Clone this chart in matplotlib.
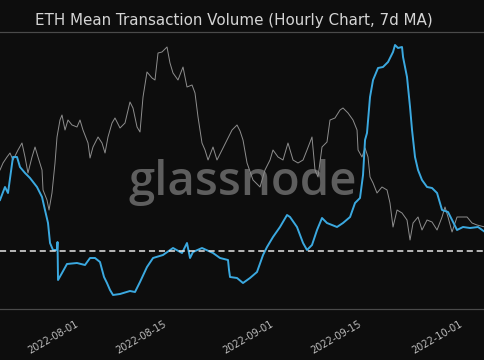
import numpy as np
import pandas as pd
import matplotlib
matplotlib.use("Agg")
import matplotlib.pyplot as plt
import matplotlib.dates as mdates

# time axis: days since 2022-07-19 07:00
start = pd.Timestamp("2022-07-19 07:00")
end_days = 76.98

# ETH price (grey, hourly)
price_days = [0.00, 0.48, 1.11, 1.59, 2.06, 2.86, 3.49, 3.97, 4.44, 5.08, 5.56, 6.03, 6.67, 6.83,
              7.46, 7.78, 8.25, 8.73, 9.05, 9.52, 9.84, 10.32, 10.79, 11.43, 12.22, 12.70, 13.17,
              13.97, 14.29, 14.76, 15.56, 16.19, 16.67, 17.14, 17.78, 18.25, 19.05, 19.84, 20.63,
              21.11, 21.75, 22.22, 22.70, 23.33, 24.13, 24.60, 25.08, 25.71, 26.51, 26.98, 27.46,
              28.25, 29.05, 29.68, 30.48, 30.95, 31.43, 32.06, 32.54, 33.02, 33.81, 34.44, 35.24,
              36.03, 36.83, 37.62, 38.10, 38.57, 39.21, 40.16, 41.27, 42.06, 42.86, 43.33, 44.13,
              44.92, 45.71, 46.51, 47.30, 48.10, 48.73, 49.52, 50.00, 50.48, 51.11, 51.90, 52.38,
              53.17, 53.97, 54.44, 55.24, 56.03, 56.67, 56.83, 57.46, 57.94, 58.41, 58.73, 59.21,
              59.84, 60.63, 61.43, 61.90, 62.38, 63.02, 63.81, 64.60, 65.08, 65.56, 66.35, 66.98,
              67.78, 68.57, 69.37, 70.16, 70.63, 71.11, 71.75, 72.54, 73.33, 74.13, 74.92, 75.71,
              76.98]
price = [1500, 1528, 1552, 1568, 1540, 1580, 1608, 1552, 1488, 1552, 1592, 1552, 1500, 1420,
         1380, 1340, 1408, 1528, 1632, 1700, 1720, 1660, 1700, 1680, 1672, 1700, 1660,
         1608, 1548, 1592, 1632, 1608, 1568, 1632, 1688, 1708, 1668, 1688, 1772,
         1748, 1672, 1652, 1792, 1892, 1868, 1860, 1968, 1972, 1992, 1928, 1888,
         1860, 1912, 1832, 1840, 1808, 1712, 1608, 1580, 1540, 1592, 1540, 1580,
         1620, 1660, 1680, 1656, 1620, 1528, 1460, 1432, 1500, 1540, 1580, 1552,
         1540, 1608, 1540, 1528, 1540, 1580, 1632, 1500, 1472, 1592, 1612, 1700,
         1708, 1740, 1748, 1728, 1700, 1660, 1580, 1552, 1588, 1552, 1472, 1448,
         1408, 1432, 1420, 1368, 1272, 1340, 1328, 1300, 1220, 1288, 1312, 1260,
         1300, 1292, 1260, 1312, 1352, 1312, 1252, 1312, 1312, 1312, 1288, 1280,
         1272]

# mean transaction volume, 7d MA (blue)
vol_days = [0.00, 0.79, 1.27, 2.06, 2.70, 3.17, 3.97, 4.76, 5.87, 6.67, 7.14, 7.62, 7.94, 8.41,
            9.05, 9.13, 9.21, 9.84, 10.63, 12.22, 13.49, 14.29, 15.08, 15.87, 16.51, 16.98,
            17.46, 17.94, 19.05, 20.63, 21.43, 22.22, 23.33, 24.29, 25.87, 27.46, 28.89, 29.68,
            30.16, 30.63, 32.06, 33.81, 34.92, 36.19, 36.35, 36.51, 37.62, 38.57, 39.68, 40.79,
            41.75, 42.38, 43.33, 44.44, 45.56, 46.03, 47.14, 48.10, 48.73, 49.52, 50.32, 51.11,
            51.90, 52.70, 53.49, 54.44, 55.56, 56.35, 57.14, 57.62, 57.94, 58.25, 58.73, 59.21,
            60.00, 60.79, 61.59, 62.38, 62.70, 63.17, 63.81, 63.97, 64.60, 65.08, 65.40, 65.87,
            66.35, 66.98, 67.78, 68.57, 69.37, 70.16, 71.11, 71.75, 72.54, 73.49, 74.60, 75.87,
            76.98]
vol = [4.00, 4.26, 4.14, 4.86, 4.86, 4.66, 4.54, 4.44, 4.26, 4.06, 3.80, 3.54, 3.14, 3.00,
       3.00, 3.16, 2.40, 2.54, 2.72, 2.74, 2.70, 2.84, 2.84, 2.76, 2.46, 2.34,
       2.20, 2.10, 2.12, 2.18, 2.16, 2.36, 2.66, 2.84, 2.90, 3.04, 2.94, 3.14,
       2.84, 2.96, 3.04, 2.94, 2.84, 2.80, 2.60, 2.46, 2.44, 2.34, 2.44, 2.56,
       2.90, 3.06, 3.26, 3.46, 3.70, 3.66, 3.46, 3.14, 3.00, 3.10, 3.40, 3.64,
       3.54, 3.50, 3.46, 3.54, 3.66, 3.94, 4.04, 4.50, 5.20, 5.34, 6.06, 6.40,
       6.64, 6.66, 6.76, 6.96, 7.10, 7.04, 7.06, 6.86, 6.46, 5.86, 5.40, 4.86,
       4.60, 4.40, 4.26, 4.24, 4.14, 3.80, 3.76, 3.60, 3.40, 3.46, 3.44, 3.46,
       3.36]
ref_level = 2.98

tick_dates = ["2022-08-01", "2022-08-15", "2022-09-01", "2022-09-15", "2022-10-01"]

bg = "#0d0d0d"
t_price = start + pd.to_timedelta(price_days, unit="D")
t_vol = start + pd.to_timedelta(vol_days, unit="D")

fig = plt.figure(figsize=(4.85, 3.6), dpi=100, facecolor=bg)
ax = fig.add_axes([0, 51 / 360, 1, 277 / 360], facecolor=bg)
ax2 = ax.twinx()

ax.text(0.5, 0.455, "glassnode", transform=ax.transAxes, ha="center", va="center",
        fontsize=34, color="#5e5e5e", fontweight="semibold", family="Open Sans", zorder=0)

ax.plot(t_price, price, color="#8e8e8e", lw=0.7, zorder=2)
ax2.plot(t_vol, vol, color="#3ba9e0", lw=1.4, zorder=3)
ax2.axhline(ref_level, color="#e6e6e6", lw=1.1, ls=(0, (4, 2.5)), zorder=4)

ax.set_ylim(944, 2052)
ax2.set_ylim(1.82, 7.36)
ax.set_xlim(start, start + pd.Timedelta(days=end_days))

for a in (ax, ax2):
    for s in ("left", "right"):
        a.spines[s].set_visible(False)
    a.spines["top"].set_color("#4a4a4a")
    a.spines["bottom"].set_color("#4a4a4a")
    a.set_yticks([])

ax.set_xticks(pd.to_datetime(tick_dates))
ax.xaxis.set_major_formatter(mdates.DateFormatter("%Y-%m-%d"))
ax.tick_params(axis="x", colors="#bdbdbd", labelsize=7, length=0, pad=7)
for lbl in ax.get_xticklabels():
    lbl.set_rotation(30)
    lbl.set_ha("right")

fig.text(233.5 / 485, 1 - 20 / 360, "ETH Mean Transaction Volume (Hourly Chart, 7d MA)",
         ha="center", va="center", color="#d4d4d4", fontsize=10.9)

fig.savefig("out.png", dpi=100, facecolor=bg)
